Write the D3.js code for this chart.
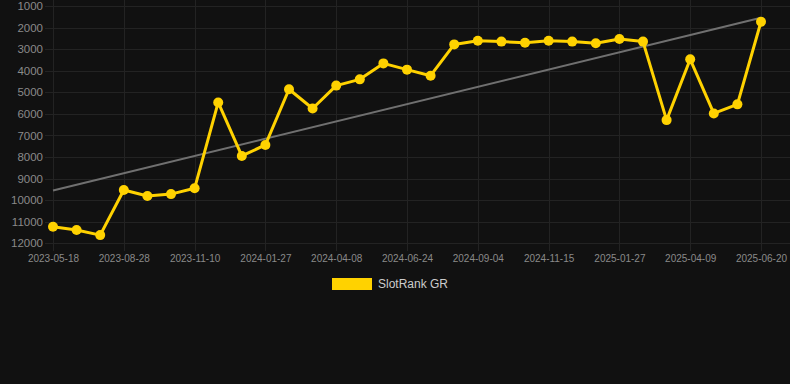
<!DOCTYPE html>
<html>
<head>
<meta charset="utf-8">
<script src="https://cdn.jsdelivr.net/npm/d3@7"></script>
<style>
  html, body { margin: 0; padding: 0; background: #111111; }
  svg { display: block; }
</style>
</head>
<body>
<div id="chart"></div>
<script>
// ── Data ─────────────────────────────────────────────────────────────────────

const dates = [
  "2023-05-18", "2023-06-21", "2023-07-25", "2023-08-28", "2023-09-21", "2023-10-16",
  "2023-11-10", "2023-12-06", "2024-01-01", "2024-01-27", "2024-02-16", "2024-03-13",
  "2024-04-08", "2024-05-03", "2024-05-29", "2024-06-24", "2024-07-18", "2024-08-11",
  "2024-09-04", "2024-09-28", "2024-10-22", "2024-11-15", "2024-12-10", "2025-01-03",
  "2025-01-27", "2025-02-20", "2025-03-16", "2025-04-09", "2025-05-03", "2025-05-27",
  "2025-06-20",
];

const ranks = [
  11230, 11380, 11620, 9530, 9810, 9720,
  9450, 5470, 7950, 7440, 4860, 5750,
  4690, 4400, 3660, 3950, 4230, 2780,
  2610, 2650, 2700, 2610, 2650, 2730,
  2530, 2650, 6290, 3470, 5980, 5560,
  1730,
];

const yTicks = [1000, 2000, 3000, 4000, 5000, 6000, 7000, 8000, 9000, 10000, 11000, 12000];
const seriesName = "SlotRank GR";

// ── Chart ────────────────────────────────────────────────────────────────────

const width = 790;
const height = 384;
const gold = "#ffd200";

const svg = d3.select("#chart").append("svg")
  .attr("width", width).attr("height", height);

svg.append("rect").attr("width", width).attr("height", height).attr("fill", "#111111");

const x = d3.scalePoint().domain(dates).range([53, 761]);
const y = d3.scaleLinear().domain([1000, 12000]).range([6, 243.3]);

const labelDates = dates.filter((d, i) => i % 3 === 0);

// grid
const grid = svg.append("g").attr("stroke", "#232323").attr("stroke-width", 1);
grid.selectAll("line.h").data(yTicks).join("line")
  .attr("class", "h")
  .attr("x1", 45).attr("x2", width)
  .attr("y1", (d) => Math.round(y(d)) + 0.5).attr("y2", (d) => Math.round(y(d)) + 0.5);
grid.selectAll("line.v").data(labelDates).join("line")
  .attr("class", "v")
  .attr("x1", (d) => Math.round(x(d)) + 0.5).attr("x2", (d) => Math.round(x(d)) + 0.5)
  .attr("y1", 0).attr("y2", 251);

// y axis
const yAxis = svg.append("g")
  .attr("transform", "translate(43,0)")
  .call(d3.axisLeft(y).tickValues(yTicks).tickSize(0).tickPadding(0).tickFormat(d3.format("d")));
yAxis.select(".domain").remove();
yAxis.selectAll("text")
  .attr("fill", "#8a8a8a")
  .attr("font-size", "11.5px")
  .attr("font-family", "'Liberation Sans', Arial, sans-serif");

// x axis
const xAxis = svg.append("g")
  .attr("transform", "translate(0,251)")
  .call(d3.axisBottom(x).tickValues(labelDates).tickSize(0).tickPadding(4));
xAxis.select(".domain").remove();
xAxis.selectAll("text")
  .attr("fill", "#8a8a8a")
  .attr("font-size", "10px")
  .attr("font-family", "'Liberation Sans', Arial, sans-serif");

// trend line (least squares over index)
const n = ranks.length;
const meanX = d3.mean(ranks, (d, i) => i);
const meanY = d3.mean(ranks);
const slope = d3.sum(ranks, (d, i) => (i - meanX) * (d - meanY)) /
  d3.sum(ranks, (d, i) => (i - meanX) * (i - meanX));
const intercept = meanY - slope * meanX;

svg.append("line")
  .attr("x1", x(dates[0])).attr("y1", y(intercept))
  .attr("x2", x(dates[n - 1])).attr("y2", y(intercept + slope * (n - 1)))
  .attr("stroke", "#707070").attr("stroke-width", 2);

// series
const line = d3.line()
  .x((d, i) => x(dates[i]))
  .y((d) => y(d));

svg.append("path")
  .datum(ranks)
  .attr("d", line)
  .attr("fill", "none")
  .attr("stroke", gold)
  .attr("stroke-width", 3)
  .attr("stroke-linejoin", "round");

svg.append("g").selectAll("circle").data(ranks).join("circle")
  .attr("cx", (d, i) => x(dates[i]))
  .attr("cy", (d) => y(d))
  .attr("r", 5)
  .attr("fill", gold);

// legend
const legend = svg.append("g").attr("transform", "translate(332,278)");
legend.append("rect").attr("width", 40).attr("height", 12).attr("fill", gold);
legend.append("text")
  .attr("x", 46).attr("y", 6).attr("dy", "0.35em")
  .attr("font-size", "12px")
  .attr("font-family", "'Liberation Sans', Arial, sans-serif")
  .attr("fill", "#cccccc")
  .text(seriesName);
</script>
</body>
</html>
